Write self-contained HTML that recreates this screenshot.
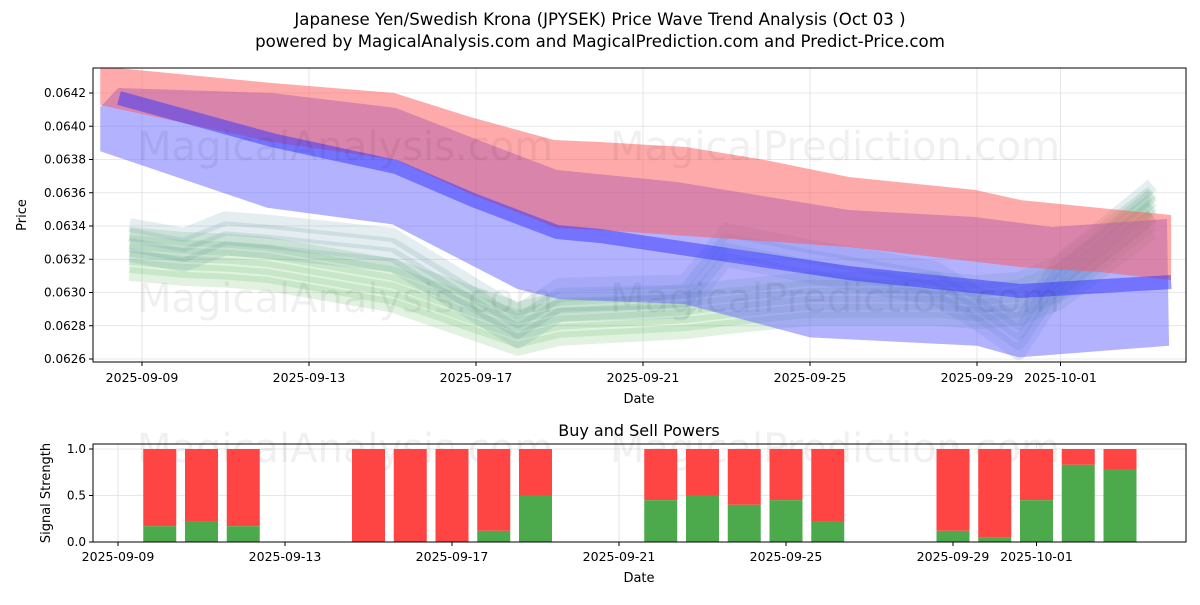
<!DOCTYPE html>
<html><head><meta charset="utf-8">
<style>
body{margin:0;background:#fff;font-family:"Liberation Sans","DejaVu Sans",sans-serif;}
svg text{font-family:"DejaVu Sans","Liberation Sans",sans-serif;}
</style></head>
<body>
<svg width="1200" height="600" xmlns="http://www.w3.org/2000/svg">
<text x="600" y="25" text-anchor="middle" font-size="16.6">Japanese Yen/Swedish Krona (JPYSEK) Price Wave Trend Analysis (Oct 03 )</text>
<text x="600" y="47" text-anchor="middle" font-size="16.6">powered by MagicalAnalysis.com and MagicalPrediction.com and Predict-Price.com</text>
<g id="topchart"></g>
<g id="botchart"></g>
</svg>
<script>
// ---- price chart data ----
const redUpDays=[-1,3.11,6.04,7.86,9.87,10.97,13.03,14.92,16.93,19.95,21.05,24.65];
const redUpper=[0.06436,0.064260,0.064200,0.064056,0.063917,0.063905,0.063875,0.063797,0.063695,0.063617,0.063556,0.063466];
const redLoDays=[-1,3.11,6.08,7.93,9.94,10.97,16.93,21.05,22.94,24.65];
const redLower=[0.064128,0.063905,0.063797,0.063586,0.063388,0.063376,0.063274,0.063153,0.063123,0.063075];
const blueUpDays=[-1,-0.57,3.11,6.08,7.93,9.94,12.81,16.93,19.95,21.8,24.55];
const blueUpper=[0.064116,0.064230,0.064200,0.064110,0.063929,0.063737,0.063665,0.063496,0.063454,0.063394,0.063442];
const blueLoDays=[-1,3,6,9,10,13,16,20,21,24.6];
const blueLower=[0.06385,0.06351,0.06341,0.06302,0.06296,0.06293,0.06273,0.06268,0.06261,0.06268];
const lineDays=[-0.55,3.11,6.08,7.93,9.94,10.97,16.93,21.05,24.65];
const blueLine=[0.064170,0.063917,0.063755,0.063556,0.063364,0.063340,0.063117,0.063009,0.063063];
const greenDays=[-0.3,1,2,3,6,9,10,13,14,16,19,20,21,22,24.2];
const greenMid=[0.06322,0.06319,0.06318,0.06316,0.06303,0.06277,0.06283,0.06287,0.06290,0.06295,0.06295,0.06293,0.06295,0.06305,0.06347];
const grayMid=[0.06331,0.06325,0.06335,0.06333,0.06325,0.06279,0.06295,0.06297,0.06328,0.06318,0.06305,0.06290,0.06272,0.06310,0.06355];
// ---- power chart data ----
const barDays=[1,2,3,6,7,8,9,10,13,14,15,16,17,20,21,22,23,24];
const buyPower=[0.17,0.22,0.17,0,0,0,0.12,0.5,0.45,0.5,0.4,0.45,0.22,0.12,0.05,0.45,0.83,0.78];
const priceTicks=[0.0626,0.0628,0.0630,0.0632,0.0634,0.0636,0.0638,0.0640,0.0642];
const dateTicks=["2025-09-09","2025-09-13","2025-09-17","2025-09-21","2025-09-25","2025-09-29","2025-10-01"];
const dateTickDays=[0,4,8,12,16,20,22];
const powerTicks=[0,0.5,1.0];

const NS="http://www.w3.org/2000/svg";
function mk(parent,tag,attrs){const e=document.createElementNS(NS,tag);for(const k in attrs)e.setAttribute(k,attrs[k]);parent.appendChild(e);return e;}
const topG=document.getElementById('topchart'),botG=document.getElementById('botchart');
const X=d=>142+d*41.75, Y=p=>359-(p-0.0626)/0.0002*33.25;
const X2=d=>118+d*41.75, Y2=v=>542-v*93;
const L=93,R=1186;
const defs=mk(topG,'defs',{});const cp=mk(defs,'clipPath',{id:'c1'});mk(cp,'rect',{x:L,y:68,width:R-L,height:294});
priceTicks.forEach(p=>{const l=mk(topG,'line',{x1:L,x2:R,y1:Y(p),y2:Y(p),stroke:'#e0e0e0','stroke-width':0.8});

});
dateTickDays.forEach(d=>{const l=mk(topG,'line',{x1:X(d),x2:X(d),y1:68,y2:362,stroke:'#e0e0e0','stroke-width':0.8});

});
const plot=mk(topG,'g',{'clip-path':'url(#c1)'});
function band(days,up,daysLo,lo,color,op,name){
 let pts=days.map((d,i)=>X(d)+','+Y(up[i]));
 pts=pts.concat(daysLo.map((d,i)=>X(d)+','+Y(lo[i])).reverse());
 const e=mk(plot,'polygon',{points:pts.join(' '),fill:color,'fill-opacity':op});
 
 
}
function thick(days,vals,w,color,op,name,off){
 const pts=days.map((d,i)=>X(d)+','+(Y(vals[i])+(off||0)));
 const e=mk(plot,'polyline',{points:pts.join(' '),fill:'none',stroke:color,'stroke-width':w,'stroke-opacity':op,'stroke-linejoin':'round'});
 
 
}
[-22,-14,-6,2,10,18].forEach(o=>thick(greenDays,greenMid,14,'#4caf50',0.17,'green-wave-band',o));
[-16,-6,4,14].forEach(o=>thick(greenDays,grayMid,14,'#5a8fa0',0.16,'gray-wave-band',o));
band(blueUpDays,blueUpper,blueLoDays,blueLower,'#6666ff',0.5,'blue-band');
band(redUpDays,redUpper,redLoDays,redLower,'#ff5555',0.5,'red-band');
thick(lineDays,blueLine,14,'#3333ff',0.5,'blue-wave-line');
[['MagicalAnalysis.com',345,160],['MagicalPrediction.com',835,160],['MagicalAnalysis.com',345,312],['MagicalPrediction.com',835,312]].forEach(w=>{const t=mk(topG,'text',{x:w[1],y:w[2],'text-anchor':'middle','font-size':40,fill:'#000','fill-opacity':0.06});t.textContent=w[0];

});
mk(topG,'rect',{x:L,y:68,width:R-L,height:294,fill:'none',stroke:'#000','stroke-width':1});
priceTicks.forEach(p=>{mk(topG,'line',{x1:L-4,x2:L,y1:Y(p),y2:Y(p),stroke:'#000'});const t=mk(topG,'text',{x:L-7,y:Y(p)+4,'text-anchor':'end','font-size':12});t.textContent=p.toFixed(4);

});
dateTickDays.forEach((d,i)=>{mk(topG,'line',{x1:X(d),x2:X(d),y1:362,y2:366,stroke:'#000'});const t=mk(topG,'text',{x:X(d),y:382,'text-anchor':'middle','font-size':12.5});t.textContent=dateTicks[i];

});
let t=mk(topG,'text',{x:639,y:403,'text-anchor':'middle','font-size':13});t.textContent='Date';


t=mk(topG,'text',{x:26,y:215,'text-anchor':'middle','font-size':13,transform:'rotate(-90 26 215)'});t.textContent='Price';


t=mk(botG,'text',{x:639,y:436,'text-anchor':'middle','font-size':16});t.textContent='Buy and Sell Powers';


powerTicks.forEach(v=>{mk(botG,'line',{x1:L,x2:R,y1:Y2(v),y2:Y2(v),stroke:'#e0e0e0','stroke-width':0.8});});
dateTickDays.forEach(d=>{mk(botG,'line',{x1:X2(d),x2:X2(d),y1:444,y2:542,stroke:'#e0e0e0','stroke-width':0.8});});
[['MagicalAnalysis.com',345,462],['MagicalPrediction.com',835,462]].forEach(w=>{const t=mk(botG,'text',{x:w[1],y:w[2],'text-anchor':'middle','font-size':40,fill:'#000','fill-opacity':0.06});t.textContent=w[0];

});
barDays.forEach((d,i)=>{
 const b=buyPower[i];
 const r=mk(botG,'rect',{x:X2(d)-16.5,y:Y2(1),width:33,height:Y2(b)-Y2(1),fill:'#ff4444'});
 
 
 const g=mk(botG,'rect',{x:X2(d)-16.5,y:Y2(b),width:33,height:Y2(0)-Y2(b),fill:'#4caa4c'});
 
 
});
mk(botG,'rect',{x:L,y:444,width:R-L,height:98,fill:'none',stroke:'#000','stroke-width':1});
powerTicks.forEach(v=>{mk(botG,'line',{x1:L-4,x2:L,y1:Y2(v),y2:Y2(v),stroke:'#000'});const t=mk(botG,'text',{x:L-7,y:Y2(v)+4,'text-anchor':'end','font-size':12});t.textContent=v.toFixed(1);

});
dateTickDays.forEach((d,i)=>{mk(botG,'line',{x1:X2(d),x2:X2(d),y1:542,y2:546,stroke:'#000'});const t=mk(botG,'text',{x:X2(d),y:561,'text-anchor':'middle','font-size':12.5});t.textContent=dateTicks[i];

});
t=mk(botG,'text',{x:639,y:582,'text-anchor':'middle','font-size':13});t.textContent='Date';


t=mk(botG,'text',{x:50,y:493,'text-anchor':'middle','font-size':13,transform:'rotate(-90 50 493)'});t.textContent='Signal Strength';


</script>
</body></html>
